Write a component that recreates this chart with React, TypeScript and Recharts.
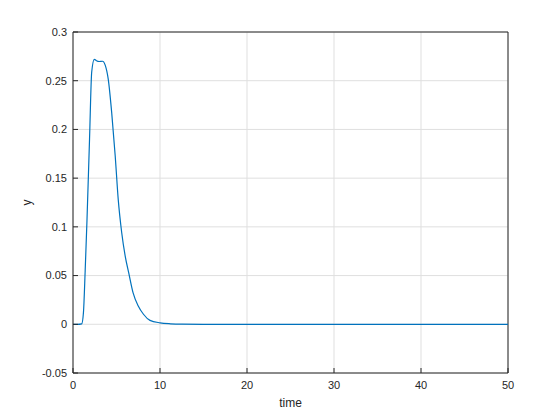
import { LineChart, Line, XAxis, YAxis, CartesianGrid, ReferenceLine, Label } from 'recharts';

// response
const times = [0, 0.5, 1.0, 1.2, 1.4, 1.6, 1.9, 2.15, 2.45, 2.7, 3.0, 3.4, 3.7, 4.05, 4.45, 4.85, 5.2, 5.6, 6.0, 6.4, 6.9, 7.5, 8.1, 8.85, 10, 11.2, 12.5, 15, 20, 30, 40, 50];
const yValues = [0, 0, 0.0005, 0.012, 0.055, 0.105, 0.19, 0.259, 0.272, 0.2705, 0.2697, 0.27, 0.266, 0.2516, 0.217, 0.173, 0.128, 0.094, 0.07, 0.053, 0.0325, 0.0188, 0.0103, 0.004, 0.0015, 0.0005, 0.0001, 0, 0, 0, 0, 0];
const xTicks = [0, 10, 20, 30, 40, 50];
const yTicks = [-0.05, 0, 0.05, 0.1, 0.15, 0.2, 0.25, 0.3];

const data = times.map((t, i) => ({ time: t, y: yValues[i] }));

const axisColor = '#262626';
const font = 'Liberation Sans, Arial, sans-serif';

export default function App() {
  return (
    <div style={{ margin: -8, width: 560, height: 420, background: '#fff' }}>
      <LineChart width={560} height={420} data={data} margin={{ top: 32, right: 52, bottom: 0, left: 0 }}>
        <CartesianGrid stroke="#dfdfdf" strokeWidth={1} />
        <XAxis
          dataKey="time"
          type="number"
          domain={[0, 50]}
          ticks={xTicks}
          height={47}
          stroke={axisColor}
          tickSize={-5}
          tickMargin={13}
          tick={{ fill: axisColor, fontSize: 11, fontFamily: font }}
        >
          <Label
            content={({ viewBox }: any) => (
              <text x={viewBox.x + viewBox.width / 2} y={407} textAnchor="middle" fill={axisColor} fontSize={12} fontFamily={font}>
                time
              </text>
            )}
          />
        </XAxis>
        <YAxis
          type="number"
          domain={[-0.05, 0.3]}
          ticks={yTicks}
          width={73}
          stroke={axisColor}
          tickSize={-5}
          tickMargin={11}
          tick={{ fill: axisColor, fontSize: 11, fontFamily: font }}
          tickFormatter={(v: number) => String(Number(v.toFixed(2)))}
        >
          <Label
            content={({ viewBox }: any) => {
              const cy = viewBox.y + viewBox.height / 2;
              return (
                <text x={31} y={cy} transform={`rotate(-90 31 ${cy})`} textAnchor="middle" fill={axisColor} fontSize={12} fontFamily={font}>
                  y
                </text>
              );
            }}
          />
        </YAxis>
        <ReferenceLine y={0.3} stroke={axisColor} />
        <ReferenceLine x={50} stroke={axisColor} />
        <Line type="monotone" dataKey="y" stroke="#0072BD" strokeWidth={1.2} dot={false} isAnimationActive={false} />
      </LineChart>
    </div>
  );
}
